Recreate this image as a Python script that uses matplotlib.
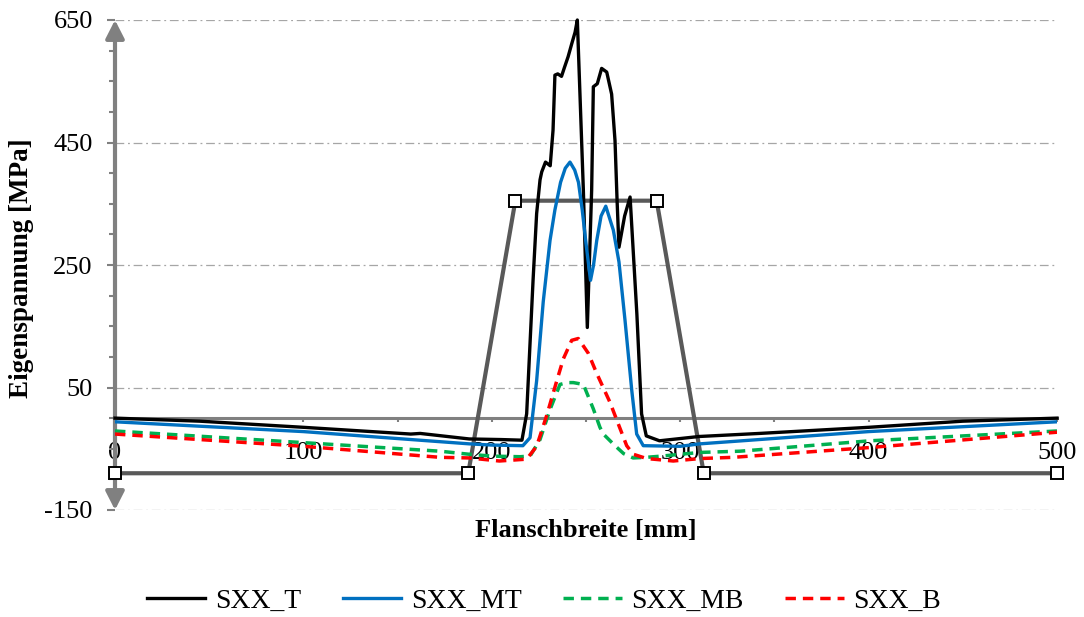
import numpy as np
import matplotlib
matplotlib.use("Agg")
import matplotlib.pyplot as plt
from matplotlib.ticker import MultipleLocator
from matplotlib.lines import Line2D

plt.rcParams['font.family'] = ['Liberation Serif', 'DejaVu Serif']
plt.rcParams['axes.unicode_minus'] = False

# --- data ---
t_x = [0, 45, 100, 157, 162, 188, 205, 216, 218.5, 221.9, 223.8, 225.6, 226.5, 228.5, 231,
       232.5, 233.5, 235, 237, 238.5, 240.5, 242.5, 244.2, 245.4, 248.6, 250.7, 253, 253.9,
       256, 258.3, 261, 263.6, 265.4, 266.5, 267.5, 270.5, 273.4, 277, 279.5, 282, 289,
       310, 342, 400, 450, 500]
t_y = [0, -5, -15, -26, -25, -34, -35, -36, 7, 225, 334, 389, 402, 418, 412,
       470, 560, 562, 558, 572, 590, 612, 630, 650, 372, 148, 372, 541,
       546, 571, 565, 529, 453, 355, 279, 330, 361, 170, 7, -29, -37,
       -30, -25, -15, -5, 0]

mt_x = [0, 100, 188, 200, 216.5, 220.3, 223.8, 227.3, 230.9, 233.5, 236.5, 239, 241.5,
        244, 246, 248, 250, 252.4, 254, 255.7, 258, 260.5, 264.5, 267.5, 270.7, 274.3,
        276.9, 280.4, 300, 310.5, 400, 500]
mt_y = [-6, -22, -42, -44, -45, -32, 61, 190, 290, 340, 385, 408, 418,
        405, 385, 340, 285, 225, 250, 290, 330, 346, 307, 255, 160, 45,
        -26, -45, -46, -42, -22, -6]

mb_x = [0, 100, 172.5, 188, 200, 215, 220.3, 225.6, 230.9, 236.2, 240, 243.3, 248.6,
        253.9, 257.4, 259.2, 265.4, 270, 275, 282, 290, 310.5, 331.7, 400.7, 500]
mb_y = [-21, -40, -54, -59, -62, -63, -62, -35, 14, 55, 58, 58, 55,
        15, -15, -26, -45, -58, -65, -64, -62, -56, -54, -37, -21]

b_x = [0, 100, 172.5, 188, 204, 218.5, 223.8, 229.1, 234.4, 238, 242.4, 245.9, 251.2,
       255.7, 262.7, 267.2, 271.6, 275.1, 282.2, 296.3, 310.5, 328.2, 400.7, 500]
b_y = [-26, -46, -64, -65, -70, -67, -46, 4, 60, 97, 127, 130, 106,
       73, 26, -10, -45, -59, -66, -70, -66, -64, -48, -23]

# gray trapezoid (reference profile)
trap_x = [0, 187.5, 212.5, 287.5, 312.5, 500]
trap_y = [-90, -90, 355, 355, -90, -90]

y_ticks = [-150, 50, 250, 450, 650]
x_ticks = [0, 100, 200, 300, 400, 500]

GRAY = '#808080'

fig = plt.figure(figsize=(10.84, 6.17), dpi=100)
ax = fig.add_axes([115 / 1084, 1 - 510 / 617, 942 / 1084, 490 / 617])

ax.set_xlim(0, 500)
ax.set_ylim(-150, 650)

# grid
ax.set_yticks(y_ticks)
ax.yaxis.set_minor_locator(MultipleLocator(50))
ax.set_xticks(x_ticks)
ax.xaxis.set_minor_locator(MultipleLocator(50))
ax.grid(axis='y', which='major', color='#a6a6a6', lw=0.9, linestyle=(0, (7, 3, 1.5, 3)))
ax.set_axisbelow(True)

# spines
for s in ['top', 'right', 'left']:
    ax.spines[s].set_visible(False)
ax.spines['bottom'].set_position(('data', 0))
ax.spines['bottom'].set_color(GRAY)
ax.spines['bottom'].set_linewidth(2.2)
ax.spines['bottom'].set_zorder(2.2)

# y axis with arrows on both ends
ax.annotate('', xy=(0, 650), xytext=(0, -150),
            arrowprops=dict(arrowstyle='<|-|>,head_length=0.55,head_width=0.28',
                            color=GRAY, lw=3, mutation_scale=20, shrinkA=0, shrinkB=0),
            annotation_clip=False, zorder=2.3)

ax.tick_params(axis='y', which='major', length=6, width=1.5, color=GRAY, pad=10, labelsize=19)
ax.tick_params(axis='y', which='minor', length=4, width=1.5, color=GRAY)
ax.tick_params(axis='x', which='both', length=3, width=1.5, color=GRAY, pad=14, labelsize=19)

# reference trapezoid
ax.plot(trap_x, trap_y, color='#595959', lw=3, marker='s', ms=8, mfc='white',
        mec='black', mew=1.4, zorder=2.6, clip_on=False)

# series
ax.plot(t_x, t_y, color='black', lw=2.4, zorder=3, label='SXX_T', clip_on=False)
ax.plot(mt_x, mt_y, color='#0070C0', lw=2.4, zorder=3, label='SXX_MT')
ax.plot(mb_x, mb_y, color='#00B050', lw=2.5, dashes=(3, 2), zorder=3, label='SXX_MB')
ax.plot(b_x, b_y, color='#FF0000', lw=2.5, dashes=(3, 2), zorder=3, label='SXX_B')

# axis titles
fig.text(22 / 1084, 1 - 268 / 617, 'Eigenspannung [MPa]', rotation=90, ha='center',
         va='center', fontsize=19.5, fontweight='bold')
fig.text(586 / 1084, 1 - 530 / 617, 'Flanschbreite [mm]', ha='center', va='center',
         fontsize=19, fontweight='bold')

handles = [Line2D([], [], color='black', lw=2.4),
           Line2D([], [], color='#0070C0', lw=2.4),
           Line2D([], [], color='#00B050', lw=2.5, dashes=(3, 2)),
           Line2D([], [], color='#FF0000', lw=2.5, dashes=(3, 2))]
fig.legend(handles, ['SXX_T', 'SXX_MT', 'SXX_MB', 'SXX_B'], loc='center',
           bbox_to_anchor=(0.502, 1 - 601 / 617), ncol=4, frameon=False, fontsize=20,
           handlelength=2.1, handletextpad=0.35, columnspacing=1.5)

fig.savefig('out.png', dpi=100)
